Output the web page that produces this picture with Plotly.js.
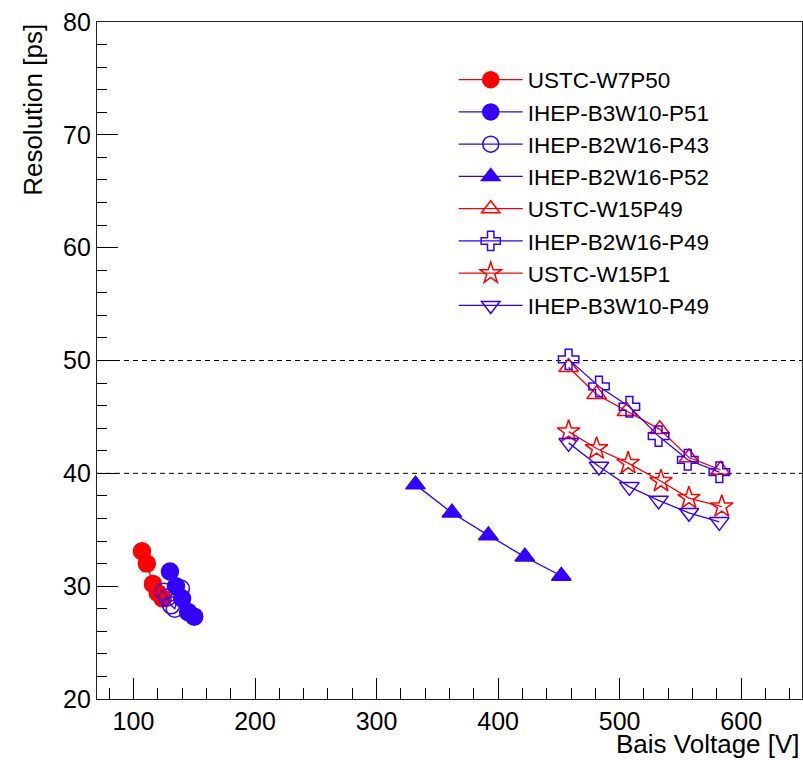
<!DOCTYPE html>
<html>
<head>
<meta charset="utf-8">
<script src="https://cdn.plot.ly/plotly-3.0.1.min.js"></script>
<style>html,body{margin:0;padding:0;background:#fff;}#chart{width:803px;height:760px;}</style>
</head>
<body>
<div id="chart"></div>
<script>
// Data (Bias voltage [V], Resolution [ps])
const names = ["USTC-W7P50","IHEP-B3W10-P51","IHEP-B2W16-P43","IHEP-B2W16-P52","USTC-W15P49","IHEP-B2W16-P49","USTC-W15P1","IHEP-B3W10-P49"];

const v_W7P50 = [107, 111, 116, 120, 124];
const r_W7P50 = [33.1, 32.0, 30.2, 29.4, 28.9];

const v_B3W10P51 = [130, 135, 140, 145, 150];
const r_B3W10P51 = [31.3, 30.0, 28.9, 27.7, 27.3];

const v_B2W16P43 = [125, 128, 131, 134, 139];
const r_B2W16P43 = [29.5, 29.0, 28.3, 28.0, 29.8];

const v_B2W16P52 = [332, 362, 392, 422, 452];
const r_B2W16P52 = [39.0, 36.5, 34.5, 32.6, 30.9];

const v_W15P49 = [458, 481, 506, 533, 557, 583];
const r_W15P49 = [49.4, 47.0, 45.5, 43.9, 41.4, 40.3];

const v_B2W16P49 = [458, 483, 508, 532, 556, 582];
const r_B2W16P49 = [50.1, 47.7, 45.9, 43.3, 41.2, 40.1];

const v_W15P1 = [458, 481, 507, 534, 557, 584];
const r_W15P1 = [43.7, 42.2, 40.9, 39.3, 37.8, 37.05];

const v_B3W10P49 = [458, 483, 508, 532, 557, 582];
const r_B3W10P49 = [42.7, 40.6, 38.8, 37.6, 36.5, 35.7];

const xTickVals = [100, 200, 300, 400, 500, 600];
const yTickVals = [20, 30, 40, 50, 60, 70, 80];
const refLines = [40, 50];

const RED = '#ff0000';
const BLUE = '#3300ff';

function tr(name, x, y, color, symbol) {
  return {
    type: 'scatter', mode: 'lines+markers', name: name, x: x, y: y,
    line: {color: color, width: 1.3},
    marker: {symbol: symbol, size: 17, color: color, line: {color: color, width: 1.5}}
  };
}

const data = [
  tr(names[0], v_W7P50, r_W7P50, RED, 'circle'),
  tr(names[1], v_B3W10P51, r_B3W10P51, BLUE, 'circle'),
  tr(names[2], v_B2W16P43, r_B2W16P43, BLUE, 'circle-open'),
  tr(names[3], v_B2W16P52, r_B2W16P52, BLUE, 'triangle-up'),
  tr(names[4], v_W15P49, r_W15P49, RED, 'triangle-up-open'),
  tr(names[5], v_B2W16P49, r_B2W16P49, BLUE, 'cross-open'),
  tr(names[6], v_W15P1, r_W15P1, RED, 'star-open'),
  tr(names[7], v_B3W10P49, r_B3W10P49, BLUE, 'triangle-down-open')
];

const FONT = 'Liberation Sans, Arial, Helvetica, sans-serif';

const layout = {
  width: 803, height: 760,
  margin: {l: 97, r: 1, t: 22, b: 61},
  paper_bgcolor: '#fff', plot_bgcolor: '#fff',
  font: {family: FONT, color: '#000'},
  showlegend: true,
  legend: {
    x: 0.506, y: 0.946, xanchor: 'left', yanchor: 'top',
    bgcolor: 'rgba(0,0,0,0)', borderwidth: 0,
    font: {size: 22.5, family: FONT, color: '#000'},
    itemwidth: 64
  },
  xaxis: {
    range: [70, 650], tickvals: xTickVals, ticks: 'inside', ticklen: 21, tickwidth: 1, tickcolor: '#000',
    minor: {dtick: 20, tick0: 0, ticks: 'inside', ticklen: 11, tickwidth: 1, tickcolor: '#000'},
    showline: true, mirror: true, linecolor: '#222', linewidth: 1.2,
    showgrid: false, zeroline: false,
    tickfont: {size: 25, family: FONT, color: '#000'}
  },
  yaxis: {
    range: [20, 80], tickvals: yTickVals, ticks: 'inside', ticklen: 21, tickwidth: 1, tickcolor: '#000',
    minor: {dtick: 2, tick0: 0, ticks: 'inside', ticklen: 10, tickwidth: 1, tickcolor: '#000'},
    showline: true, mirror: true, linecolor: '#222', linewidth: 1.2,
    showgrid: false, zeroline: false,
    tickfont: {size: 25, family: FONT, color: '#000'}
  },
  shapes: refLines.map(v => ({
    type: 'line', xref: 'paper', yref: 'y', x0: 0, x1: 1, y0: v, y1: v,
    line: {color: '#000', width: 1, dash: '5px,4px'}, layer: 'below'
  })),
  annotations: [
    {text: 'Bais Voltage [V]', xref: 'paper', yref: 'paper', x: 1, y: -0.067,
     xanchor: 'right', yanchor: 'middle', showarrow: false, font: {size: 26, family: FONT, color: '#000'}},
    {text: 'Resolution [ps]', xref: 'paper', yref: 'paper', x: -0.091, y: 1,
     xanchor: 'center', yanchor: 'top', textangle: -90, showarrow: false, font: {size: 26, family: FONT, color: '#000'}}
  ]
};

Plotly.newPlot('chart', data, layout, {displayModeBar: false, staticPlot: true});
</script>
</body>
</html>
